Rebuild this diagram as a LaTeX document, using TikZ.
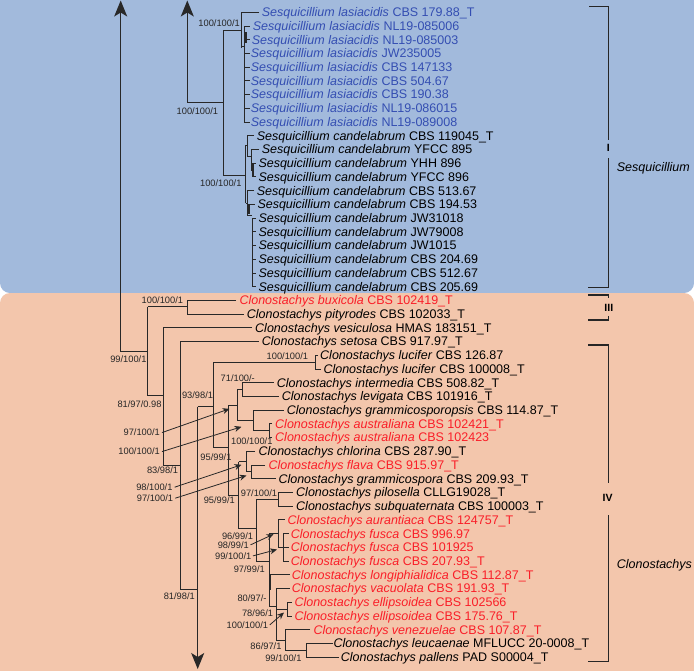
\documentclass[tikz,border=0pt]{standalone}
\usepackage{fontspec}
\setmainfont{Liberation Sans}
\usetikzlibrary{arrows.meta}
\definecolor{bluebg}{RGB}{162,186,220}
\definecolor{orangebg}{RGB}{243,198,172}
\definecolor{bluetx}{RGB}{52,78,178}
\definecolor{redtx}{RGB}{250,30,40}
\definecolor{treecol}{RGB}{40,40,40}
\tikzset{
  tree/.style={draw=treecol, line width=1.0pt},
  tax/.style={anchor=base west, inner sep=0pt, font=\fontsize{12.5}{14}\selectfont},
  supp/.style={anchor=base east, inner sep=0pt, font=\fontsize{9.3}{10}\selectfont, text=black!85},
  lead/.style={draw=treecol, line width=0.8pt, -{Stealth[length=7pt,width=6pt]}},
  bigarrow/.style={draw=treecol, line width=1.1pt, -{Stealth[length=16pt,width=13pt,inset=4pt]}},
  brk/.style={draw=black!85, line width=1.1pt},
  roman/.style={font=\fontsize{10.5}{11}\selectfont\bfseries, inner sep=0pt},
  clade/.style={anchor=west, inner sep=0pt, font=\fontsize{12.5}{14}\selectfont\itshape},
}
\newcommand{\mytaxon}[6]{\node[tax,text=#2] (#1) at (#3,#4) {\textit{#5} #6};}
\newcommand{\mysupp}[4]{\node[supp] (#1) at (#2,#3) {#4};}
\begin{document}
\begin{tikzpicture}[x=1pt,y=-1pt]
\useasboundingbox (0,0) rectangle (694,670);
\begin{scope}
\clip (0,0) rectangle (694,670);
\fill[white] (0,0) rectangle (694,670);
\fill[bluebg,rounded corners=10pt] (0,-20) rectangle (694,293);
\fill[orangebg,rounded corners=10pt] (0,293) rectangle (694,690);
\end{scope}

% ---------------- taxa ----------------
\mytaxon{t0}{bluetx}{261.7}{16.6}{Sesquicillium lasiacidis}{CBS 179.88\_T}
\mytaxon{t1}{bluetx}{252.7}{30.3}{Sesquicillium lasiacidis}{NL19-085006}
\mytaxon{t2}{bluetx}{251.7}{44.0}{Sesquicillium lasiacidis}{NL19-085003}
\mytaxon{t3}{bluetx}{250.7}{57.8}{Sesquicillium lasiacidis}{JW235005}
\mytaxon{t4}{bluetx}{250.7}{71.5}{Sesquicillium lasiacidis}{CBS 147133}
\mytaxon{t5}{bluetx}{250.7}{85.2}{Sesquicillium lasiacidis}{CBS 504.67}
\mytaxon{t6}{bluetx}{250.7}{98.9}{Sesquicillium lasiacidis}{CBS 190.38}
\mytaxon{t7}{bluetx}{250.7}{112.6}{Sesquicillium lasiacidis}{NL19-086015}
\mytaxon{t8}{bluetx}{250.7}{126.4}{Sesquicillium lasiacidis}{NL19-089008}
\mytaxon{t9}{black}{256.7}{140.1}{Sesquicillium candelabrum}{CBS 119045\_T}
\mytaxon{t10}{black}{261.7}{153.8}{Sesquicillium candelabrum}{YFCC 895}
\mytaxon{t11}{black}{258.3}{167.5}{Sesquicillium candelabrum}{YHH 896}
\mytaxon{t12}{black}{258.3}{181.2}{Sesquicillium candelabrum}{YFCC 896}
\mytaxon{t13}{black}{256.7}{195.0}{Sesquicillium candelabrum}{CBS 513.67}
\mytaxon{t14}{black}{257.3}{208.7}{Sesquicillium candelabrum}{CBS 194.53}
\mytaxon{t15}{black}{258.3}{222.4}{Sesquicillium candelabrum}{JW31018}
\mytaxon{t16}{black}{258.3}{236.1}{Sesquicillium candelabrum}{JW79008}
\mytaxon{t17}{black}{258.3}{249.8}{Sesquicillium candelabrum}{JW1015}
\mytaxon{t18}{black}{258.3}{263.6}{Sesquicillium candelabrum}{CBS 204.69}
\mytaxon{t19}{black}{258.3}{277.3}{Sesquicillium candelabrum}{CBS 512.67}
\mytaxon{t20}{black}{258.3}{291.0}{Sesquicillium candelabrum}{CBS 205.69}
\mytaxon{t21}{redtx}{239.3}{304.7}{Clonostachys buxicola}{CBS 102419\_T}
\mytaxon{t22}{black}{246.7}{318.4}{Clonostachys pityrodes}{CBS 102033\_T}
\mytaxon{t23}{black}{255.0}{332.2}{Clonostachys vesiculosa}{HMAS 183151\_T}
\mytaxon{t24}{black}{261.7}{345.9}{Clonostachys setosa}{CBS 917.97\_T}
\mytaxon{t25}{black}{320.0}{359.6}{Clonostachys lucifer}{CBS 126.87}
\mytaxon{t26}{black}{323.3}{373.3}{Clonostachys lucifer}{CBS 100008\_T}
\mytaxon{t27}{black}{276.7}{387.0}{Clonostachys intermedia}{CBS 508.82\_T}
\mytaxon{t28}{black}{281.7}{400.8}{Clonostachys levigata}{CBS 101916\_T}
\mytaxon{t29}{black}{286.7}{414.5}{Clonostachys grammicosporopsis}{CBS 114.87\_T}
\mytaxon{t30}{redtx}{275.0}{428.2}{Clonostachys australiana}{CBS 102421\_T}
\mytaxon{t31}{redtx}{275.0}{441.9}{Clonostachys australiana}{CBS 102423}
\mytaxon{t32}{black}{258.3}{455.6}{Clonostachys chlorina}{CBS 287.90\_T}
\mytaxon{t33}{redtx}{268.3}{469.4}{Clonostachys flava}{CBS 915.97\_T}
\mytaxon{t34}{black}{278.3}{483.1}{Clonostachys grammicospora}{CBS 209.93\_T}
\mytaxon{t35}{black}{296.0}{496.8}{Clonostachys pilosella}{CLLG19028\_T}
\mytaxon{t36}{black}{296.0}{510.5}{Clonostachys subquaternata}{CBS 100003\_T}
\mytaxon{t37}{redtx}{287.3}{524.2}{Clonostachys aurantiaca}{CBS 124757\_T}
\mytaxon{t38}{redtx}{290.7}{538.0}{Clonostachys fusca}{CBS 996.97}
\mytaxon{t39}{redtx}{290.7}{551.7}{Clonostachys fusca}{CBS 101925}
\mytaxon{t40}{redtx}{290.7}{565.4}{Clonostachys fusca}{CBS 207.93\_T}
\mytaxon{t41}{redtx}{291.7}{579.1}{Clonostachys longiphialidica}{CBS 112.87\_T}
\mytaxon{t42}{redtx}{291.7}{592.8}{Clonostachys vacuolata}{CBS 191.93\_T}
\mytaxon{t43}{redtx}{294.3}{606.6}{Clonostachys ellipsoidea}{CBS 102566}
\mytaxon{t44}{redtx}{294.3}{620.3}{Clonostachys ellipsoidea}{CBS 175.76\_T}
\mytaxon{t45}{redtx}{313.3}{634.0}{Clonostachys venezuelae}{CBS 107.87\_T}
\mytaxon{t46}{black}{333.3}{647.7}{Clonostachys leucaenae}{MFLUCC 20-0008\_T}
\mytaxon{t47}{black}{340.7}{661.4}{Clonostachys pallens}{PAD S00004\_T}

% ---------------- Sesquicillium tree ----------------
\draw[bigarrow] (120.7,351.7) -- (120.7,0.5);
\draw[tree] (120.7,351.7) -- (147.7,351.7);
\draw[bigarrow] (187.3,102.7) -- (187.3,0.5);
\draw[tree] (187.3,102.7) -- (223.3,102.7);
\draw[tree] (241.7,30) -- (223.3,30) -- (223.3,175) -- (245.7,175);
% lasiacidis
\draw[tree] (259,12.3) -- (241.7,12.3) -- (241.7,48);
\draw[tree] (241.7,46) -- (244.3,46);
\draw[tree] (244.3,26) -- (244.3,122.1);
\foreach \yy in {26.0,39.7,53.5,67.2,80.9,94.6,108.3,122.1}
  \draw[tree] (244.3,\yy) -- (249.5,\yy);
\draw[treecol,line width=2pt] (245.8,32) -- (245.8,43);
% candelabrum
\draw[tree] (245.7,145) -- (245.7,203);
\draw[tree] (245.7,145) -- (247.7,145);
\draw[tree] (254,135.8) -- (247.7,135.8) -- (247.7,156) -- (251.7,156);
\draw[tree] (259,149.5) -- (251.7,149.5) -- (251.7,170) -- (253,170);
\draw[treecol,line width=1.8pt] (253,163.2) -- (253,176.9);
\draw[tree] (253,163.2) -- (256,163.2);
\draw[tree] (253,176.9) -- (256,176.9);
\draw[tree] (245.7,203) -- (247.7,203);
\draw[tree] (254,190.7) -- (247.7,190.7) -- (247.7,215) -- (252.3,215);
\draw[tree] (247.7,204.4) -- (254.5,204.4);
\draw[treecol,line width=1.8pt] (248.6,205) -- (248.6,214);
\draw[tree] (252.3,218.1) -- (252.3,286.7);
\foreach \yy in {218.1,231.8,245.5,259.3,273.0,286.7}
  \draw[tree] (252.3,\yy) -- (256,\yy);

% ---------------- Clonostachys tree ----------------
\draw[tree] (147.7,306.7) -- (147.7,395.7);
\draw[tree] (147.7,306.7) -- (187.3,306.7);
\draw[tree] (236,300.4) -- (187.3,300.4) -- (187.3,314.1) -- (243.5,314.1);
\draw[tree] (147.7,395.7) -- (163.3,395.7);
\draw[tree] (252,327.9) -- (163.3,327.9) -- (163.3,465) -- (180,465);
\draw[tree] (258.5,341.6) -- (180,341.6) -- (180,589.3) -- (197.7,589.3);
\draw[bigarrow] (197.7,406.7) -- (197.7,669);
\draw[tree] (197.7,406.7) -- (213.3,406.7);
\draw[tree] (315,362.2) -- (213.3,362.2) -- (213.3,447.7) -- (228.3,447.7);
\draw[tree] (318,355.3) -- (315,355.3) -- (315,369) -- (321,369);
% B node
\draw[tree] (237,405) -- (228.3,405) -- (228.3,495) -- (238.5,495);
\draw[tree] (237,389.6) -- (237,420.5);
\draw[tree] (237,389.6) -- (242,389.6);
\draw[tree] (273.5,382.7) -- (242,382.7) -- (242,396.5) -- (278.5,396.5);
\draw[tree] (237,420.5) -- (253.3,420.5);
\draw[tree] (283.5,410.2) -- (253.3,410.2) -- (253.3,430.8) -- (269.3,430.8);
\draw[tree] (272,423.9) -- (269.3,423.9) -- (269.3,437.6) -- (272,437.6);
% X node
\draw[tree] (238.5,461.7) -- (238.5,528.3) -- (256,528.3);
\draw[tree] (238.5,461.7) -- (246.7,461.7);
\draw[tree] (255,451.3) -- (246.7,451.3) -- (246.7,471.9) -- (251.7,471.9);
\draw[tree] (265,465.1) -- (251.7,465.1) -- (251.7,478.8) -- (275.5,478.8);
% E node
\draw[tree] (256,499.4) -- (256,561.7) -- (269.3,561.7);
\draw[tree] (256,499.4) -- (278.3,499.4);
\draw[tree] (293,492.5) -- (278.3,492.5) -- (278.3,506.2) -- (293,506.2);
% G node
\draw[tree] (269.3,533.7) -- (269.3,606.7);
\draw[treecol,line width=1.8pt] (270,574) -- (270,590);
\draw[tree] (269.3,533.7) -- (278.3,533.7);
\draw[tree] (284.5,519.9) -- (278.3,519.9) -- (278.3,547.4) -- (283.3,547.4);
\draw[tree] (283.3,533.7) -- (283.3,561.1);
\foreach \yy in {533.7,547.4,561.1}
  \draw[tree] (283.3,\yy) -- (288.5,\yy);
\draw[tree] (269.3,574.8) -- (289.5,574.8);
\draw[tree] (269.3,606.7) -- (276.7,606.7);
\draw[tree] (289.5,588.5) -- (276.7,588.5) -- (276.7,640) -- (285,640);
\draw[tree] (276.7,609.1) -- (287.3,609.1);
\draw[tree] (291.5,602.3) -- (287.3,602.3) -- (287.3,616) -- (291.5,616);
\draw[tree] (310,629.7) -- (285,629.7) -- (285,650.3) -- (306,650.3);
\draw[tree] (333,643.4) -- (306,643.4) -- (306,657.1) -- (338.5,657.1);

% ---------------- support values ----------------
\mysupp{s1}{240}{26.5}{100/100/1}
\mysupp{s2}{218.3}{114.9}{100/100/1}
\mysupp{s3}{241.7}{186.5}{100/100/1}
\mysupp{s4}{183.3}{303.9}{100/100/1}
\mysupp{s5}{146.7}{362.2}{99/100/1}
\mysupp{s6}{161.7}{407.2}{81/97/0.98}
\mysupp{s7}{178.3}{473.9}{83/98/1}
\mysupp{s8}{195}{599.2}{81/98/1}
\mysupp{s9}{213.3}{398.2}{93/98/1}
\mysupp{s10}{308.3}{359.2}{100/100/1}
\mysupp{s11}{255}{381.5}{71/100/-}
\mysupp{s12}{160}{435.9}{97/100/1}
\mysupp{s13}{160}{454.9}{100/100/1}
\mysupp{s14}{272.7}{444.2}{100/100/1}
\mysupp{s15}{231.7}{460.5}{95/99/1}
\mysupp{s16}{172.7}{490.5}{98/100/1}
\mysupp{s17}{173.3}{501.5}{97/100/1}
\mysupp{s18}{235}{503.9}{95/99/1}
\mysupp{s19}{277.3}{496.5}{97/100/1}
\mysupp{s20}{253.3}{539.2}{96/99/1}
\mysupp{s21}{249}{548.2}{98/99/1}
\mysupp{s22}{251.5}{559.2}{99/100/1}
\mysupp{s23}{265}{572.5}{97/99/1}
\mysupp{s24}{266.7}{601.5}{80/97/-}
\mysupp{s25}{273.3}{616.5}{78/96/1}
\mysupp{s26}{268.3}{628.2}{100/100/1}
\mysupp{s27}{281.7}{649.9}{86/97/1}
\mysupp{s28}{301.7}{661.5}{99/100/1}

\coordinate (a12) at (229.5,408.8);
\coordinate (a13) at (241.5,426.8);
\coordinate (a16) at (241.5,464.8);
\coordinate (a17) at (246.5,475.5);
\coordinate (a21) at (273.5,534.2);
\coordinate (a22) at (277,549.5);
\coordinate (a26) at (284,612.5);
\draw[lead] ([xshift=2pt]s12.east) -- (a12);
\draw[lead] ([xshift=2pt]s13.east) -- (a13);
\draw[lead] ([xshift=2pt]s16.east) -- (a16);
\draw[lead] ([xshift=2pt]s17.east) -- (a17);
\draw[lead] ([xshift=1.5pt]s21.east) -- (a21);
\draw[lead] ([xshift=1.5pt]s22.east) -- (a22);
\draw[lead] ([xshift=1.5pt]s26.east) -- (a26);

% ---------------- clade brackets ----------------
\draw[brk] (589.3,6.7) -- (608.3,6.7) -- (608.3,140);
\draw[brk] (608.3,158.3) -- (608.3,287.3) -- (588.3,287.3);
\node[roman] (cI) at (608.3,148.3) {I};
\node[clade] (cSes) at (616.7,168.3) {Sesquicillium};
\draw[brk] (588.3,295) -- (608.3,295) -- (608.3,298.3);
\draw[brk] (608.3,316) -- (608.3,320) -- (588.3,320);
\node[roman] (cIII) at (608.8,307.7) {III};
\draw[brk] (588.3,345) -- (608.3,345) -- (608.3,482.7);
\draw[brk] (608.3,515) -- (608.3,661.7) -- (588.3,661.7);
\node[roman] (cIV) at (607.7,498.3) {IV};
\node[clade] (cClo) at (616.7,565) {Clonostachys};
\end{tikzpicture}
\end{document}
